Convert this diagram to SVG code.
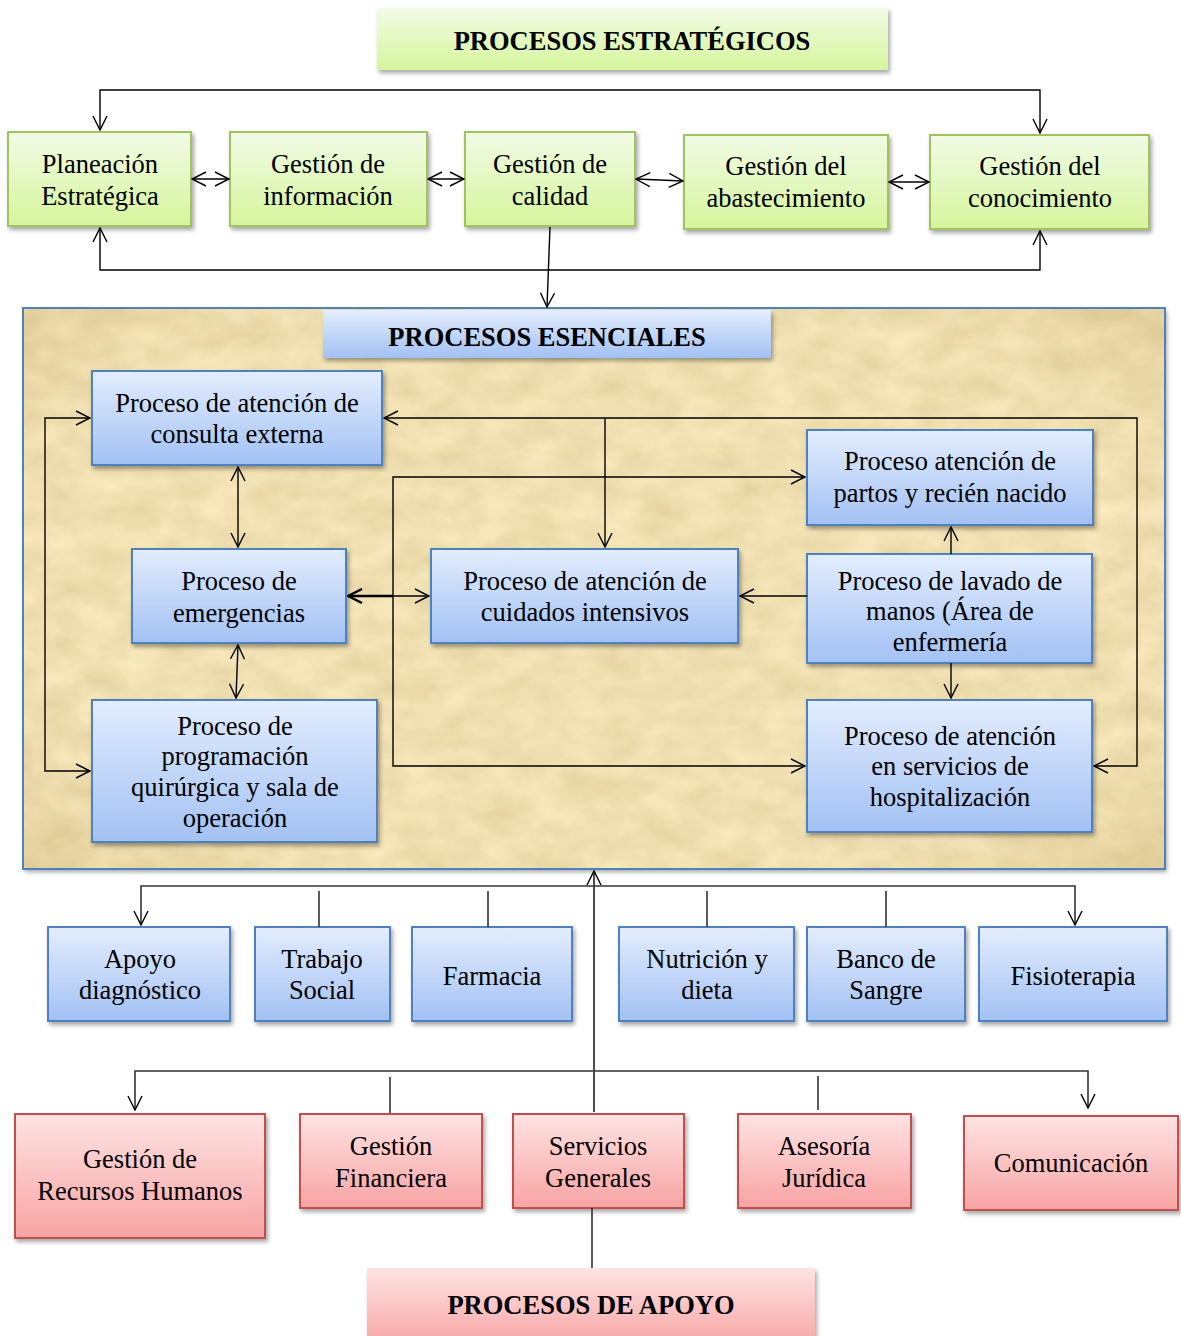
<svg xmlns="http://www.w3.org/2000/svg" width="1181" height="1336" viewBox="0 0 1181 1336">
<defs>
<style>
text{font-family:"Liberation Serif","Times New Roman",serif;font-size:26.5px;fill:#000;text-anchor:middle}
.ttl{font-weight:bold;font-size:26.5px}
.g{fill:url(#gG);stroke:#9fc35f;stroke-width:2;filter:url(#sh)}
.b{fill:url(#gB);stroke:#4f81bd;stroke-width:2;filter:url(#sh)}
.r{fill:url(#gR);stroke:#c0504d;stroke-width:2;filter:url(#sh)}
.c{fill:none;stroke:#000;stroke-width:1.4}
.c2{fill:none;stroke:#333;stroke-width:1.6}
</style>
<linearGradient id="gG" x1="0" y1="0" x2="0" y2="1"><stop offset="0" stop-color="#f1fbe6"/><stop offset="1" stop-color="#d6f59c"/></linearGradient>
<linearGradient id="gB" x1="0" y1="0" x2="0" y2="1"><stop offset="0" stop-color="#e3edfd"/><stop offset="1" stop-color="#a2c1f4"/></linearGradient>
<linearGradient id="gR" x1="0" y1="0" x2="0" y2="1"><stop offset="0" stop-color="#fee3e3"/><stop offset="1" stop-color="#f8a3a3"/></linearGradient>
<filter id="sh" x="-10%" y="-10%" width="125%" height="135%"><feDropShadow dx="2" dy="3" stdDeviation="2.2" flood-color="#000" flood-opacity="0.35"/></filter>
<filter id="pap" x="0" y="0" width="1" height="1">
<feTurbulence type="fractalNoise" baseFrequency="0.025 0.04" numOctaves="4" seed="7" result="n"/>
<feColorMatrix in="n" type="matrix" values="0.22 0 0 0 0.76  0.22 0 0 0 0.63  0.2 0 0 0 0.34  0 0 0 0 1" result="c"/>
<feComposite in="c" in2="SourceAlpha" operator="in"/>
</filter>
<radialGradient id="vig" cx="0.5" cy="0.5" r="0.75"><stop offset="0.7" stop-color="#b08a40" stop-opacity="0"/><stop offset="1" stop-color="#a07a30" stop-opacity="0.2"/></radialGradient>
<marker id="a" viewBox="0 0 16 16" refX="15" refY="8" markerWidth="16" markerHeight="16" markerUnits="userSpaceOnUse" orient="auto-start-reverse"><path d="M1,1 L15,8 L1,15" fill="none" stroke="#000" stroke-width="1.4"/></marker>
<marker id="ab" viewBox="0 0 16 16" refX="15" refY="8" markerWidth="16" markerHeight="16" markerUnits="userSpaceOnUse" orient="auto-start-reverse"><path d="M1,1 L15,8 L1,15" fill="none" stroke="#000" stroke-width="2.4"/></marker>
</defs>
<rect width="1181" height="1336" fill="#fff"/>

<g id="essential-bg">
<rect x="23" y="308" width="1142" height="561" fill="#e2c586" filter="url(#sh)"/>
<rect x="23" y="308" width="1142" height="561" fill="#000" filter="url(#pap)"/>
<rect x="23" y="308" width="1142" height="561" fill="url(#vig)"/>
<rect x="23" y="308" width="1142" height="561" fill="none" stroke="#4f81bd" stroke-width="2"/>
</g>

<g id="title-estrategicos"><rect x="377" y="8" width="511" height="62" fill="url(#gG)" stroke="none" filter="url(#sh)"/><text class="ttl" x="632" y="50">PROCESOS ESTRATÉGICOS</text></g>
<g id="planeacion"><rect class="g" x="8" y="132" width="183" height="94"/><text x="100" y="173">Planeación</text><text x="100" y="205">Estratégica</text></g>
<g id="informacion"><rect class="g" x="230" y="132" width="197" height="94"/><text x="328" y="173">Gestión de</text><text x="328" y="205">información</text></g>
<g id="calidad"><rect class="g" x="465" y="132" width="170" height="94"/><text x="550" y="173">Gestión de</text><text x="550" y="205">calidad</text></g>
<g id="abastecimiento"><rect class="g" x="684" y="135" width="204" height="94"/><text x="786" y="175">Gestión del</text><text x="786" y="207">abastecimiento</text></g>
<g id="conocimiento"><rect class="g" x="930" y="135" width="219" height="94"/><text x="1040" y="175">Gestión del</text><text x="1040" y="207">conocimiento</text></g>

<g id="title-esenciales"><rect x="323" y="310" width="448" height="48" fill="url(#gB)" filter="url(#sh)"/><text class="ttl" x="547" y="346">PROCESOS ESENCIALES</text></g>
<g id="consulta"><rect class="b" x="92" y="371" width="290" height="94"/><text x="237" y="412">Proceso de atención de</text><text x="237" y="443">consulta externa</text></g>
<g id="emergencias"><rect class="b" x="132" y="549" width="214" height="94"/><text x="239" y="590">Proceso de</text><text x="239" y="622">emergencias</text></g>
<g id="programacion"><rect class="b" x="92" y="700" width="285" height="142"/><text x="235" y="735">Proceso de</text><text x="235" y="765">programación</text><text x="235" y="796">quirúrgica y sala de</text><text x="235" y="827">operación</text></g>
<g id="cuidados"><rect class="b" x="431" y="549" width="307" height="94"/><text x="585" y="590">Proceso de atención de</text><text x="585" y="621">cuidados intensivos</text></g>
<g id="partos"><rect class="b" x="807" y="430" width="286" height="95"/><text x="950" y="470">Proceso atención de</text><text x="950" y="502">partos y recién nacido</text></g>
<g id="lavado"><rect class="b" x="807" y="554" width="285" height="109"/><text x="950" y="590">Proceso de lavado de</text><text x="950" y="620">manos (Área de</text><text x="950" y="651">enfermería</text></g>
<g id="hospitalizacion"><rect class="b" x="807" y="700" width="285" height="132"/><text x="950" y="745">Proceso de atención</text><text x="950" y="775">en servicios de</text><text x="950" y="806">hospitalización</text></g>

<g id="apoyo-diag"><rect class="b" x="48" y="927" width="182" height="94"/><text x="140" y="968">Apoyo</text><text x="140" y="999">diagnóstico</text></g>
<g id="trabajo-social"><rect class="b" x="255" y="927" width="135" height="94"/><text x="322" y="968">Trabajo</text><text x="322" y="999">Social</text></g>
<g id="farmacia"><rect class="b" x="412" y="927" width="160" height="94"/><text x="492" y="985">Farmacia</text></g>
<g id="nutricion"><rect class="b" x="619" y="927" width="175" height="94"/><text x="707" y="968">Nutrición y</text><text x="707" y="999">dieta</text></g>
<g id="banco"><rect class="b" x="807" y="927" width="158" height="94"/><text x="886" y="968">Banco de</text><text x="886" y="999">Sangre</text></g>
<g id="fisioterapia"><rect class="b" x="979" y="927" width="188" height="94"/><text x="1073" y="985">Fisioterapia</text></g>

<g id="rrhh"><rect class="r" x="15" y="1114" width="250" height="124"/><text x="140" y="1168">Gestión de</text><text x="140" y="1200">Recursos Humanos</text></g>
<g id="financiera"><rect class="r" x="300" y="1114" width="182" height="94"/><text x="391" y="1155">Gestión</text><text x="391" y="1187">Financiera</text></g>
<g id="servicios"><rect class="r" x="513" y="1114" width="171" height="94"/><text x="598" y="1155">Servicios</text><text x="598" y="1187">Generales</text></g>
<g id="asesoria"><rect class="r" x="738" y="1114" width="173" height="94"/><text x="824" y="1155">Asesoría</text><text x="824" y="1187">Jurídica</text></g>
<g id="comunicacion"><rect class="r" x="964" y="1116" width="214" height="94"/><text x="1071" y="1172">Comunicación</text></g>
<g id="title-apoyo"><rect x="367" y="1268" width="448" height="80" fill="url(#gR)" filter="url(#sh)"/><text class="ttl" x="591" y="1314">PROCESOS DE APOYO</text></g>

<g id="connectors">
<path class="c" d="M100,130 V90 H1040 V133" marker-start="url(#a)" marker-end="url(#a)"/>
<path class="c" d="M100,228 V270 H1040 V231" marker-start="url(#a)" marker-end="url(#a)"/>
<path class="c" d="M192,179 H229" marker-start="url(#a)" marker-end="url(#a)"/>
<path class="c" d="M428,179 H464" marker-start="url(#a)" marker-end="url(#a)"/>
<path class="c" d="M636,179 L683,181" marker-start="url(#a)" marker-end="url(#a)"/>
<path class="c" d="M889,182 H929" marker-start="url(#a)" marker-end="url(#a)"/>
<path class="c" d="M550,227 L547,307" marker-end="url(#a)"/>

<path class="c" d="M238,467 V547" marker-start="url(#a)" marker-end="url(#a)"/>
<path class="c" d="M238,645 L236,698" marker-start="url(#a)" marker-end="url(#a)"/>
<path class="c" d="M90,418 H45 V771 H90" marker-start="url(#a)" marker-end="url(#a)"/>
<path class="c" d="M384,418 H1137 V766 H1094" marker-start="url(#a)" marker-end="url(#a)"/>
<path class="c" d="M605,418 V547" marker-end="url(#a)"/>
<path class="c" d="M805,477 H393 V766 H805" marker-start="url(#a)" marker-end="url(#a)"/>
<path class="c" d="M393,596 H429" marker-end="url(#a)"/>
<path class="c" d="M393,596 H348" style="stroke-width:2.4" marker-end="url(#ab)"/>
<path class="c" d="M807,596 H740" marker-end="url(#a)"/>
<path class="c" d="M951,554 V527" marker-end="url(#a)"/>
<path class="c" d="M951,663 V698" marker-end="url(#a)"/>

<path class="c" d="M594,1112 V871" marker-end="url(#a)"/>
<path class="c2" d="M592,1208 V1268"/>
<path class="c2" d="M141,925 V886 H1075 V925" marker-start="url(#a)" marker-end="url(#a)"/>
<path class="c2" d="M319,891 V927 M488,891 V927 M707,891 V927 M886,891 V927"/>
<path class="c2" d="M135,1110 V1071 H1088 V1108" marker-start="url(#a)" marker-end="url(#a)"/>
<path class="c2" d="M390,1077 V1113 M818,1076 V1110"/>
</g>
</svg>
